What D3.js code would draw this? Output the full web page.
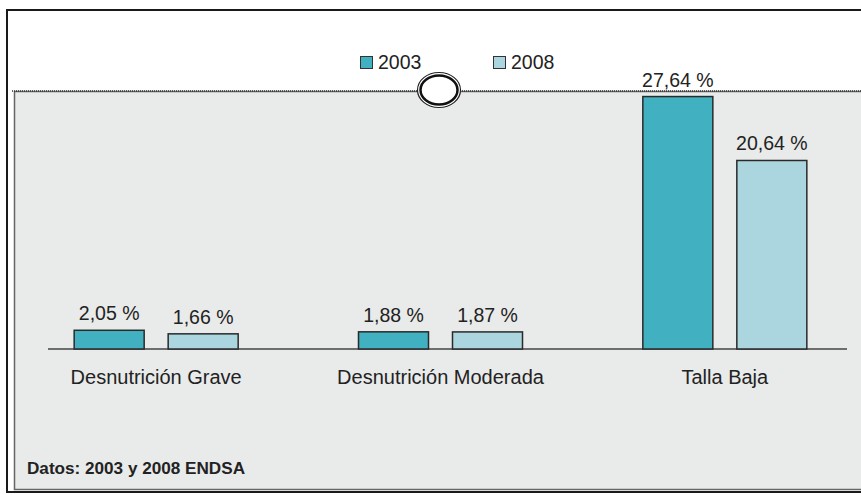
<!DOCTYPE html>
<html>
<head>
<meta charset="utf-8">
<script src="https://cdnjs.cloudflare.com/ajax/libs/d3/7.8.5/d3.min.js"></script>
<style>
	body { margin: 0; background: #fff; }
	svg { display: block; font-family: "Liberation Sans", Arial, sans-serif; }
</style>
</head>
<body>
<script>
	// datos
	var categories = ["Desnutrición Grave", "Desnutrición Moderada", "Talla Baja"];
	var series = ["2003", "2008"];
	var values2003 = [2.05, 1.88, 27.64];
	var values2008 = [1.66, 1.87, 20.64];
	var seriesColors = ["#41b1c1", "#acd6df"];
	var footerText = "Datos: 2003 y 2008 ENDSA";

	var width = 861, height = 495;
	var baseY = 349;

	var svg = d3.select("body").append("svg")
		.attr("width", width)
		.attr("height", height);

	// marco exterior y panel gris
	svg.append("rect")
		.attr("x", 7).attr("y", 10)
		.attr("width", 870).attr("height", 482)
		.attr("fill", "#fff")
		.attr("stroke", "#1a1a1a")
		.attr("stroke-width", 2);

	svg.append("rect")
		.attr("x", 14.5).attr("y", 91.5)
		.attr("width", 860).attr("height", 398)
		.attr("fill", "#e9eaea")
		.attr("stroke", "#666")
		.attr("stroke-width", 1.5);

	svg.append("line")
		.attr("x1", 12).attr("x2", width)
		.attr("y1", 91).attr("y2", 91)
		.attr("stroke", "#333")
		.attr("stroke-width", 1.5)
		.attr("stroke-dasharray", "1,1");

	var x = d3.scaleBand()
		.domain(categories)
		.range([14, 867]);

	var xInner = d3.scaleBand()
		.domain(series)
		.range([x.bandwidth() / 2 - 82, x.bandwidth() / 2 + 82])
		.paddingInner(24 / 94);

	var y = d3.scaleLinear()
		.domain([0, 30])
		.range([baseY, baseY - 274]);

	var rows = categories.map(function (c, i) {
		return { category: c, values: [values2003[i], values2008[i]] };
	});

	// linea base
	svg.append("line")
		.attr("x1", 48).attr("x2", 847)
		.attr("y1", baseY).attr("y2", baseY)
		.attr("stroke", "#444")
		.attr("stroke-width", 1.5);

	var groups = svg.selectAll("g.group")
		.data(rows)
		.enter().append("g")
		.attr("class", "group")
		.attr("transform", function (d) { return "translate(" + x(d.category) + ",0)"; });

	var bars = groups.selectAll("g.bar")
		.data(function (d) {
			return series.map(function (s, j) { return { series: s, value: d.values[j], idx: j }; });
		})
		.enter().append("g")
		.attr("class", "bar");

	bars.append("rect")
		.attr("x", function (d) { return xInner(d.series); })
		.attr("y", function (d) { return y(d.value); })
		.attr("width", xInner.bandwidth())
		.attr("height", function (d) { return baseY - y(d.value); })
		.attr("fill", function (d) { return seriesColors[d.idx]; })
		.attr("stroke", "#2a2a2a")
		.attr("stroke-width", 1.5);

	bars.append("text")
		.attr("x", function (d) { return xInner(d.series) + xInner.bandwidth() / 2; })
		.attr("y", function (d) { return y(d.value) - 10; })
		.attr("text-anchor", "middle")
		.attr("font-size", 19.5)
		.attr("fill", "#222")
		.text(function (d) { return d.value.toFixed(2).replace(".", ",") + " %"; });

	groups.append("text")
		.attr("x", x.bandwidth() / 2)
		.attr("y", 384)
		.attr("text-anchor", "middle")
		.attr("font-size", 20)
		.attr("fill", "#222")
		.text(function (d) { return d.category; });

	// leyenda
	var legendX = [360, 493];
	var legend = svg.selectAll("g.legend")
		.data(series)
		.enter().append("g")
		.attr("class", "legend")
		.attr("transform", function (d, i) { return "translate(" + legendX[i] + ",56)"; });

	legend.append("rect")
		.attr("x", 0.5).attr("y", 0.5)
		.attr("width", 12).attr("height", 12)
		.attr("fill", function (d, i) { return seriesColors[i]; })
		.attr("stroke", "#333")
		.attr("stroke-width", 1);

	legend.append("text")
		.attr("x", 18)
		.attr("y", 13)
		.attr("font-size", 19.5)
		.attr("fill", "#222")
		.text(function (d) { return d; });

	// ovalo sobre la linea superior
	svg.append("ellipse")
		.attr("cx", 439).attr("cy", 90)
		.attr("rx", 21.5).attr("ry", 17.5)
		.attr("fill", "#fff")
		.attr("stroke", "#222")
		.attr("stroke-width", 1.2);

	svg.append("ellipse")
		.attr("cx", 439).attr("cy", 90)
		.attr("rx", 18.5).attr("ry", 14.5)
		.attr("fill", "#fff")
		.attr("stroke", "#111")
		.attr("stroke-width", 2.5);

	svg.append("text")
		.attr("x", 27)
		.attr("y", 474)
		.attr("font-size", 16)
		.attr("font-weight", "bold")
		.attr("fill", "#222")
		.attr("textLength", 218)
		.attr("lengthAdjust", "spacingAndGlyphs")
		.text(footerText);
</script>
</body>
</html>
